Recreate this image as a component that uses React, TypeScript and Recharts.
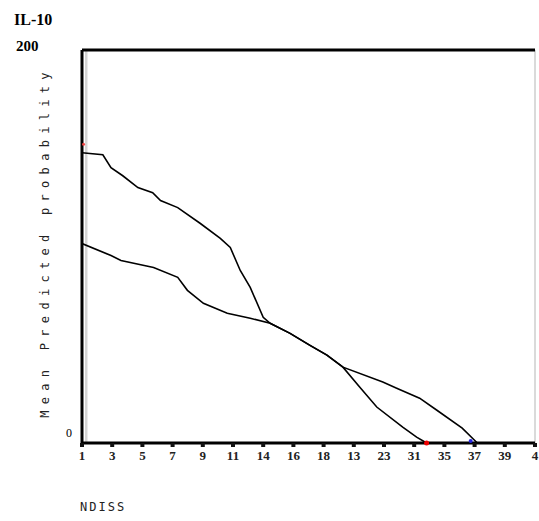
import React from 'react';
import { LineChart, Line, XAxis, YAxis, ReferenceLine, ReferenceDot } from 'recharts';

const tickLabels = ['1', '3', '5', '7', '9', '11', '14', '16', '18', '13', '23', '31', '35', '37', '39', '4'];
const tickPositions = [0, 1, 2, 3, 4, 5, 6, 7, 8, 9, 10, 11, 12, 13, 14, 15];

const upperX = [0, 0.69, 0.96, 1.35, 1.85, 2.34, 2.6, 3.17, 3.92, 4.58, 4.91, 5.24, 5.57, 6.0, 6.23, 6.89, 7.55, 8.11, 8.64, 9.2, 9.76, 10.62, 11.08, 11.41];
const upperY = [147.7, 146.7, 140.1, 136.0, 130.0, 127.4, 123.4, 119.8, 111.7, 104.1, 99.5, 87.8, 79.2, 64.0, 60.9, 55.8, 49.7, 44.7, 38.6, 28.4, 18.3, 8.1, 3.0, 0];

const lowerX = [0, 0.96, 1.29, 2.37, 3.17, 3.49, 4.02, 4.81, 5.57, 6.23, 6.89, 7.55, 8.11, 8.64, 9.96, 10.42, 11.18, 11.74, 12.59, 13.09];
const lowerY = [101.5, 95.4, 92.9, 89.3, 84.3, 77.7, 71.1, 66.0, 63.5, 60.9, 55.8, 49.7, 44.7, 38.6, 31.0, 27.9, 22.8, 16.8, 7.6, 0];

const upperData = upperX.map((x, i) => ({ x, y: upperY[i] }));
const lowerData = lowerX.map((x, i) => ({ x, y: lowerY[i] }));

const serif = '"Liberation Serif", "DejaVu Serif", serif';
const mono = '"DejaVu Sans Mono", "Liberation Mono", monospace';

const XTick = (props: any) => {
  const { x, y, payload } = props;
  const label = tickLabels[payload.value] ?? '';
  return (
    <g>
      <rect x={x - 2} y={y - 8} width={4} height={4} fill="#111" />
      <text x={x} y={y + 9} textAnchor="middle" fontFamily={serif} fontSize={13} fontWeight="bold" fill="#222">
        {label}
      </text>
    </g>
  );
};

export default function App() {
  return (
    <div style={{ position: 'absolute', left: 0, top: 0, width: 539, height: 521, background: '#fff' }}>
      <LineChart
        width={539}
        height={521}
        margin={{ top: 50, left: 82, right: 4, bottom: 0 }}
      >
        <XAxis
          type="number"
          dataKey="x"
          domain={[0, 15]}
          ticks={tickPositions}
          interval={0}
          tick={<XTick />}
          tickLine={false}
          axisLine={{ stroke: '#000', strokeWidth: 3 }}
          height={78}
          allowDataOverflow
        />
        <YAxis
          type="number"
          domain={[0, 200]}
          ticks={[0]}
          tick={false}
          tickLine={false}
          width={0}
          axisLine={false}
        />
        <ReferenceLine x={0.14} stroke="#d4d4d4" strokeWidth={2.5} />
        <ReferenceLine x={15} stroke="#dadada" strokeWidth={2} />
        <ReferenceLine x={0} stroke="#000" strokeWidth={3} />
        <ReferenceLine y={200} stroke="#000" strokeWidth={3} />
        <Line data={upperData} dataKey="y" type="linear" stroke="#000" strokeWidth={1.6} dot={false} isAnimationActive={false} />
        <Line data={lowerData} dataKey="y" type="linear" stroke="#000" strokeWidth={1.6} dot={false} isAnimationActive={false} />
        <ReferenceDot x={11.41} y={0} r={2.5} fill="#e00" stroke="none" />
        <ReferenceDot x={12.87} y={1} r={2} fill="#22d" stroke="none" />
        <ReferenceDot x={0.05} y={152} r={1.5} fill="#e44" stroke="none" />
      </LineChart>
      <div style={{ position: 'absolute', left: 14, top: 11, fontFamily: serif, fontWeight: 'bold', fontSize: 16 }}>IL-10</div>
      <div style={{ position: 'absolute', left: 16, top: 38, fontFamily: serif, fontWeight: 'bold', fontSize: 15 }}>200</div>
      <div style={{ position: 'absolute', left: 66, top: 426, fontFamily: serif, fontSize: 12 }}>0</div>
      <div
        style={{
          position: 'absolute',
          left: 45,
          top: 242,
          transform: 'translate(-50%, -50%) rotate(-90deg)',
          whiteSpace: 'nowrap',
          fontFamily: mono,
          fontSize: 12,
          letterSpacing: 6.3,
          color: '#222',
        }}
      >
        Mean Predicted probability
      </div>
      <div style={{ position: 'absolute', left: 80, top: 500, fontFamily: mono, fontSize: 12, letterSpacing: 2, color: '#222' }}>NDISS</div>
    </div>
  );
}
